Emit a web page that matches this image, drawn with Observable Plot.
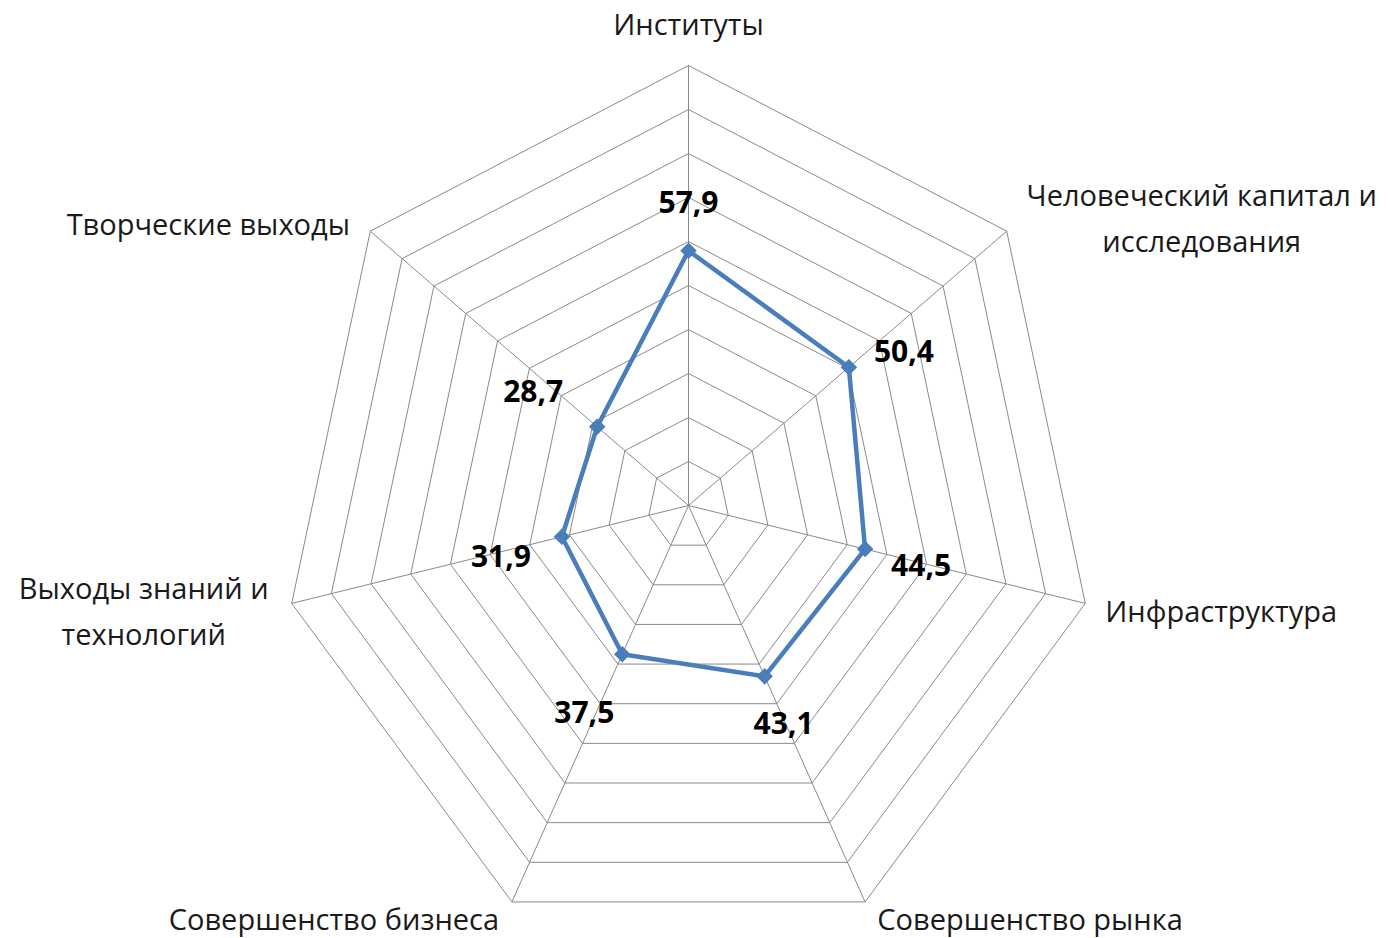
<!DOCTYPE html>
<html>
<head>
<meta charset="utf-8">
<script src="https://cdn.jsdelivr.net/npm/d3@7"></script>
<script src="https://cdn.jsdelivr.net/npm/@observablehq/plot@0.6"></script>
<style>
  html, body { margin: 0; padding: 0; background: #fff; }
  #chart svg { display: block; }
</style>
</head>
<body>
<div id="chart"></div>
<script>
// ---- data ----
const categories = [
  "Институты",
  "Человеческий капитал и\nисследования",
  "Инфраструктура",
  "Совершенство рынка",
  "Совершенство бизнеса",
  "Выходы знаний и\nтехнологий",
  "Творческие выходы"
];
const values = [57.9, 50.4, 44.5, 43.1, 37.5, 31.9, 28.7];
const ringTicks = [10, 20, 30, 40, 50, 60, 70, 80, 90, 100];
const maxValue = 100;

// ---- layout (label offsets in px) ----
const catOffsets = [
  {dx: 0, dy: -45, anchor: "middle"},
  {dx: 195, dy: -17, anchor: "middle"},
  {dx: 20, dy: 4, anchor: "start"},
  {dx: 165, dy: 13, anchor: "middle"},
  {dx: -178, dy: 13, anchor: "middle"},
  {dx: -148, dy: 4, anchor: "middle"},
  {dx: -162, dy: -11, anchor: "middle"}
];
const valOffsets = [
  [0, -47], [55, -15], [56, 17], [19, 48], [-38, 59], [-61, 21], [-64, -34]
];

const n = categories.length;
const angle = i => (2 * Math.PI * i) / n;
const px = (v, i) => (v / maxValue) * Math.sin(angle(i));
const py = (v, i) => (v / maxValue) * Math.cos(angle(i));

const rings = ringTicks.flatMap(t =>
  d3.range(n + 1).map(k => ({ring: t, x: px(t, k % n), y: py(t, k % n)}))
);
const spokes = categories.map((c, i) => ({x1: 0, y1: 0, x2: px(maxValue, i), y2: py(maxValue, i)}));
const series = d3.range(n + 1).map(k => ({x: px(values[k % n], k % n), y: py(values[k % n], k % n)}));
const points = values.map((v, i) => ({x: px(v, i), y: py(v, i), label: String(v).replace(".", ","), i}));
const catPts = categories.map((c, i) => ({x: px(maxValue, i), y: py(maxValue, i), label: c, i}));

const font = "'Open Sans', 'Noto Sans', sans-serif";
const gridColor = "#8a8a8a";
const blue = "#4a7ebb";

const chart = Plot.plot({
  width: 1388,
  height: 938,
  margin: 0,
  style: {background: "#fff", fontFamily: font},
  x: {domain: [-1, 1], range: [281, 1095], axis: null},
  y: {domain: [-1, 1], range: [945, 65], axis: null},
  marks: [
    Plot.line(rings, {x: "x", y: "y", z: "ring", stroke: gridColor, strokeWidth: 1, curve: "linear"}),
    Plot.link(spokes, {x1: "x1", y1: "y1", x2: "x2", y2: "y2", stroke: gridColor, strokeWidth: 1}),
    Plot.line(series, {x: "x", y: "y", stroke: blue, strokeWidth: 4.5, strokeLinejoin: "round"}),
    Plot.dot(points, {x: "x", y: "y", symbol: "diamond2", r: 6.5, fill: blue, stroke: blue}),
    ...points.map((p, i) => Plot.text([p], {
      x: "x", y: "y", text: "label",
      dx: valOffsets[i][0], dy: valOffsets[i][1],
      fontSize: 30, fontWeight: "bold", fill: "#000", fontFamily: font
    })),
    ...catPts.map((p, i) => Plot.text([p], {
      x: "x", y: "y", text: "label",
      dx: catOffsets[i].dx, dy: catOffsets[i].dy,
      textAnchor: catOffsets[i].anchor, lineAnchor: "middle", lineHeight: 1.59,
      fontSize: 29, fill: "#1a1a1a", fontFamily: font
    }))
  ]
});
document.getElementById("chart").appendChild(chart);
</script>
</body>
</html>
